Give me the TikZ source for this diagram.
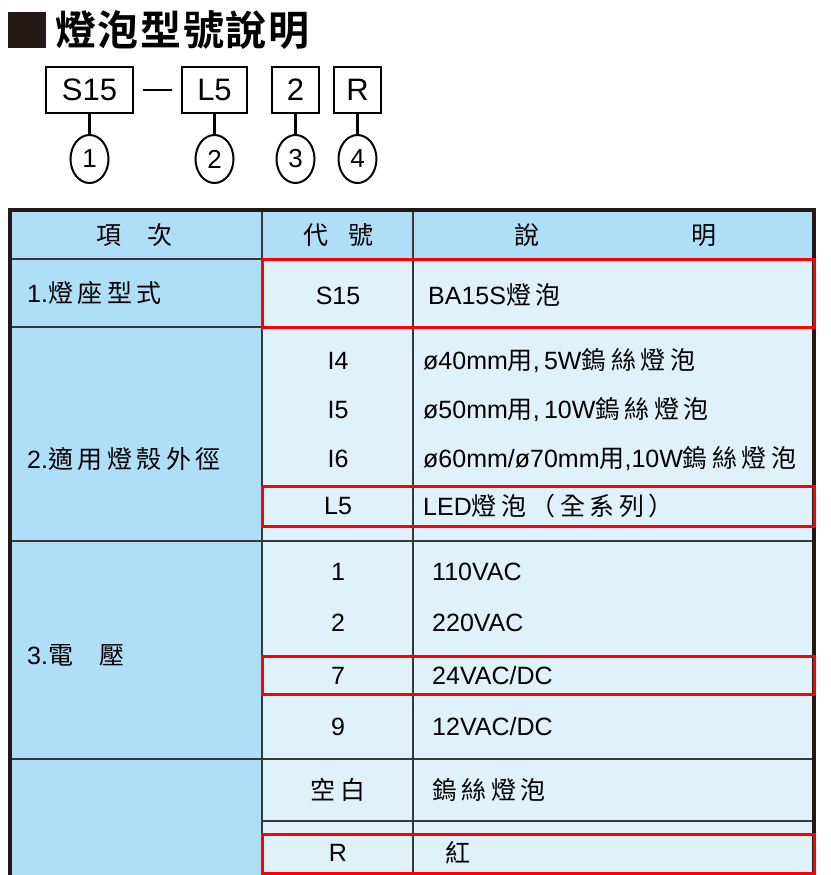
\documentclass[tikz,border=0pt]{standalone}
\usepackage{fontspec}
\usetikzlibrary{shapes.geometric}
\setmainfont{Liberation Sans}
\newfontfamily\cjk{Noto Sans CJK TC}[LetterSpace=18]
\newfontfamily\cjkb{Noto Sans CJK TC}[UprightFont=* Bold,LetterSpace=4]
\definecolor{hdblue}{RGB}{174,223,246}
\definecolor{cellblue}{RGB}{223,241,251}
\definecolor{inkblack}{RGB}{35,24,21}
\definecolor{gridgray}{RGB}{55,55,55}

\begin{document}
\begin{tikzpicture}[x=1pt,y=-1pt,
    cell/.style={inner sep=0pt,font=\fontsize{25}{30}\selectfont},
    tag/.style={draw,line width=2.5pt,inner sep=0pt,minimum height=46pt,font=\fontsize{31}{36}\selectfont},
    num/.style={draw,ellipse,line width=2pt,inner sep=0pt,minimum width=38pt,minimum height=48pt,font=\fontsize{26}{30}\selectfont},
    grid/.style={draw=gridgray,line width=2pt},
    hit/.style={draw=red,line width=3pt}]

      \useasboundingbox (0,0) rectangle (830,875);

      % title and code
      \fill[inkblack] (8,12) rectangle (46,48);
      \node[anchor=west,inner sep=0pt,font=\fontsize{41}{46}\selectfont\cjkb] (ttl) at (55,30) {燈泡型號說明};

      \node[tag,minimum width=87pt] (bS) at (89.5,90) {S15};
      \node[tag,minimum width=65pt] (bL) at (214.5,90) {L5};
      \node[tag,minimum width=47pt] (bV) at (295.5,90) {2};
      \node[tag,minimum width=47pt] (bR) at (357.5,90) {R};
      \draw[line width=2.5pt,shorten <=9pt,shorten >=9pt] (bS.east) -- (bL.west);

      \node[num] (nA) at (89.5,159) {1};
      \node[num] (nB) at (214.5,159) {2};
      \node[num] (nC) at (295.5,159) {3};
      \node[num] (nD) at (357.5,159) {4};
      \draw[line width=2.5pt] (bS) -- (nA);
      \draw[line width=2.5pt] (bL) -- (nB);
      \draw[line width=2.5pt] (bV) -- (nC);
      \draw[line width=2.5pt] (bR) -- (nD);

      % table
      \fill[hdblue] (10,210) rectangle (814,259);
      \fill[hdblue] (10,259) rectangle (262,875);
      \fill[cellblue] (262,259) rectangle (814,875);
      \foreach \y in {259,327,541,759} \draw[grid] (10,\y) -- (814,\y);
      \draw[grid] (262,821) -- (814,821);
      \draw[grid] (262,210) -- (262,875);
      \draw[grid] (413,210) -- (413,875);
      \draw[line width=3.5pt,draw=inkblack] (10,875) -- (10,210) -- (814,210) -- (814,875);

      \node[cell] (hA) at (134,235) {\cjk 項\hspace{26pt}次};
      \node[cell] (hB) at (338,235) {\cjk 代\hspace{20pt}號};
      \node[cell] (hC) at (615,235) {\cjk 說\hspace{152pt}明};

      \node[cell,anchor=west] (rA) at (27,293) {1.\cjk 燈座型式};
      \node[cell] (cS) at (338,296) {S15};
      \node[cell,anchor=west] (dS) at (428,295) {BA15S\cjk 燈泡};

      \node[cell,anchor=west] (rB) at (27,459) {2.\cjk 適用燈殼外徑};
      \node[cell] (cI4) at (338,361) {I4};
      \node[cell] (cI5) at (338,410) {I5};
      \node[cell] (cI6) at (338,459) {I6};
      \node[cell] (cL5) at (338,506) {L5};
      \node[cell,anchor=west] (dI4) at (423,361) {ø40mm{\cjk 用},\,5W{\cjk 鎢絲燈泡}};
      \node[cell,anchor=west] (dI5) at (423,410) {ø50mm{\cjk 用},\,10W{\cjk 鎢絲燈泡}};
      \node[cell,anchor=west] (dI6) at (423,459) {ø60mm/ø70mm{\cjk 用},10W{\cjk 鎢絲燈泡}};
      \node[cell,anchor=west] (dL5) at (423,506) {LED{\cjk 燈泡（全系列）}};

      \node[cell,anchor=west] (rC) at (27,655) {3.\cjk 電\hspace{26pt}壓};
      \node[cell] (c1) at (338,572) {1};
      \node[cell] (c2) at (338,623) {2};
      \node[cell] (c7) at (338,676) {7};
      \node[cell] (c9) at (338,727) {9};
      \node[cell,anchor=west] (d1) at (432,572) {110VAC};
      \node[cell,anchor=west] (d2) at (432,623) {220VAC};
      \node[cell,anchor=west] (d7) at (432,676) {24VAC/DC};
      \node[cell,anchor=west] (d9) at (432,727) {12VAC/DC};

      \node[cell] (cW) at (338,790) {\cjk 空白};
      \node[cell,anchor=west] (dW) at (432,790) {\cjk 鎢絲燈泡};
      \node[cell] (cR) at (338,853) {R};
      \node[cell,anchor=west] (dR) at (445,853) {\cjk 紅};

      % selected codes
      \foreach \a/\b in {259/327,486/526,656/694,834/873}
        \draw[hit] (262,\a) rectangle (814,\b);

    \end{tikzpicture}
\end{document}
